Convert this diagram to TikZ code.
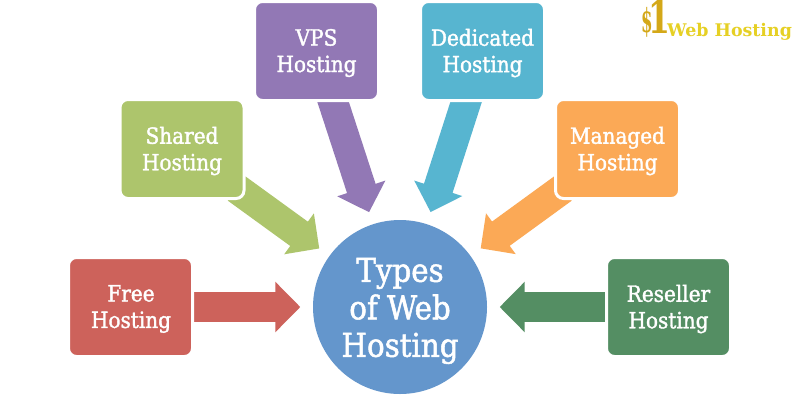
\documentclass[tikz,border=0pt]{standalone}
\usepackage{fontspec}
\setmainfont[FakeBold=1.6]{DejaVu Serif Condensed}
\newfontfamily\logofont{DejaVu Serif}
\usetikzlibrary{arrows.meta,backgrounds}
\definecolor{freered}{HTML}{CD625B}
\definecolor{sharedgreen}{HTML}{ADC56C}
\definecolor{vpspurple}{HTML}{9278B5}
\definecolor{dedicatedteal}{HTML}{57B5D0}
\definecolor{managedorange}{HTML}{FBA956}
\definecolor{resellergreen}{HTML}{548E63}
\definecolor{hubblue}{HTML}{6496CC}
\definecolor{logogold}{HTML}{E6D024}
\definecolor{logodark}{HTML}{D4A818}
\tikzset{
  kindbox/.style={draw=white,line width=3pt,fill=#1,rounded corners=8pt,
    minimum width=124pt,minimum height=99pt,inner sep=0pt},
  boxlabel/.style={text=white,align=center,inner sep=0pt,font=\fontsize{22.3}{26.5}\selectfont},
  hub/.style={circle,fill=hubblue,minimum size=174pt,inner sep=0pt},
  hublabel/.style={text=white,align=center,inner sep=0pt,font=\fontsize{32.6}{37.5}\selectfont},
  blockarrow/.style={draw=#1,line width=30pt,
    -{Triangle[length=25pt,width=49pt]},shorten >=12.5pt,shorten <=-8pt},
  deeptail/.style={shorten <=-11pt}
}
\begin{document}
\begin{tikzpicture}[x=1pt,y=-1pt]
\useasboundingbox (0,0) rectangle (800,400);
\node[hub] (types) at (400,307) {};
\node[kindbox=freered] (free) at (130.5,307) {};
\node[kindbox=sharedgreen] (shared) at (182,149) {};
\node[kindbox=vpspurple] (vps) at (316.5,51) {};
\node[kindbox=dedicatedteal] (dedicated) at (482.5,51) {};
\node[kindbox=managedorange] (managed) at (617.5,149) {};
\node[kindbox=resellergreen] (reseller) at (668.5,307) {};
% labels sit slightly below the optical centre of their shapes
\node[hublabel] (typeslabel) at (400,311) {Types\\of Web\\Hosting};
\node[boxlabel] (freelabel) at (131,309) {Free\\Hosting};
\node[boxlabel] (sharedlabel) at (182,151) {Shared\\Hosting};
\node[boxlabel] (vpslabel) at (316.5,53) {VPS\\Hosting};
\node[boxlabel] (dedicatedlabel) at (482.5,53) {Dedicated\\Hosting};
\node[boxlabel] (managedlabel) at (617.5,151) {Managed\\Hosting};
\node[boxlabel] (resellerlabel) at (668.5,309) {Reseller\\Hosting};
% block arrows sit behind the white box outlines
\begin{scope}[on background layer]
\fill[white] (0,0) rectangle (800,400);
\draw[blockarrow=freered] (free) -- (types);
\draw[blockarrow=sharedgreen,deeptail] (shared) -- (types);
\draw[blockarrow=vpspurple] (vps) -- (types);
\draw[blockarrow=dedicatedteal] (dedicated) -- (types);
\draw[blockarrow=managedorange,deeptail] (managed) -- (types);
\draw[blockarrow=resellergreen] (reseller) -- (types);
\end{scope}
% site logo
\node[inner sep=0pt,text=logodark,anchor=base,xscale=.5,font=\logofont\bfseries\fontsize{33}{33}\selectfont] (dollar) at (647,32) {\$};
\node[inner sep=0pt,text=logodark,anchor=base,xscale=.7,font=\logofont\bfseries\fontsize{45}{45}\selectfont] (one) at (659,33) {1};
\node[inner sep=0pt,text=logogold,anchor=base west,font=\logofont\bfseries\fontsize{17.4}{18}\selectfont] (brand) at (667,36) {Web Hosting};
\end{tikzpicture}
\end{document}
